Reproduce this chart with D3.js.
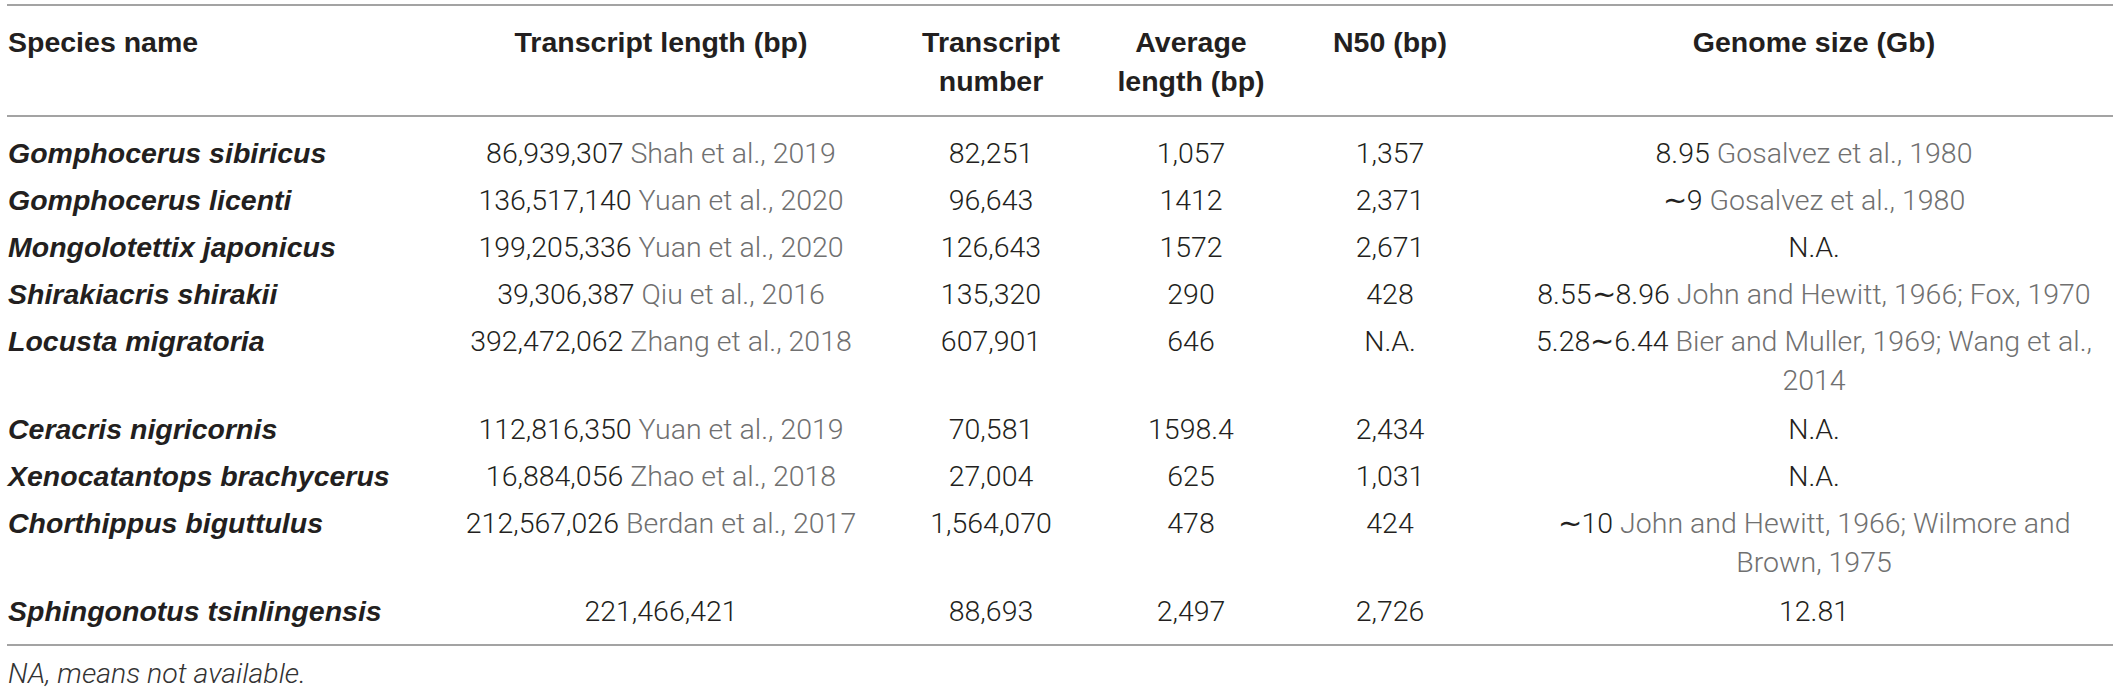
<!DOCTYPE html>
<html>
<head>
<meta charset="utf-8">
<script src="https://cdn.jsdelivr.net/npm/d3@7/dist/d3.min.js"></script>
<style>
  html, body { margin: 0; padding: 0; background: #fff; }
  svg { display: block; }
</style>
</head>
<body>
<svg id="chart" width="2119" height="691"></svg>
<script>
// ---------------- DATA ----------------
const headers = [
  ["Species name"],
  ["Transcript length (bp)"],
  ["Transcript", "number"],
  ["Average", "length (bp)"],
  ["N50 (bp)"],
  ["Genome size (Gb)"]
];
const species = [
  "Gomphocerus sibiricus",
  "Gomphocerus licenti",
  "Mongolotettix japonicus",
  "Shirakiacris shirakii",
  "Locusta migratoria",
  "Ceracris nigricornis",
  "Xenocatantops brachycerus",
  "Chorthippus biguttulus",
  "Sphingonotus tsinlingensis"
];
const transcriptLength = ["86,939,307", "136,517,140", "199,205,336", "39,306,387", "392,472,062",
  "112,816,350", "16,884,056", "212,567,026", "221,466,421"];
const lengthRef = ["Shah et al., 2019", "Yuan et al., 2020", "Yuan et al., 2020", "Qiu et al., 2016",
  "Zhang et al., 2018", "Yuan et al., 2019", "Zhao et al., 2018", "Berdan et al., 2017", ""];
const transcriptNumber = ["82,251", "96,643", "126,643", "135,320", "607,901", "70,581", "27,004", "1,564,070", "88,693"];
const avgLength = ["1,057", "1412", "1572", "290", "646", "1598.4", "625", "478", "2,497"];
const n50 = ["1,357", "2,371", "2,671", "428", "N.A.", "2,434", "1,031", "424", "2,726"];
const genomeSize = ["8.95", "\u223C9", "N.A.", "8.55\u223C8.96", "5.28\u223C6.44", "N.A.", "N.A.", "\u223C10", "12.81"];
// genome references, "|" marks the line break of the original cell
const genomeRef = ["Gosalvez et al., 1980", "Gosalvez et al., 1980", "", "John and Hewitt, 1966; Fox, 1970",
  "Bier and Muller, 1969; Wang et al.,|2014", "", "", "John and Hewitt, 1966; Wilmore and|Brown, 1975", ""];
const footnote = "NA, means not available.";

// ---------------- LAYOUT ----------------
const W = 2119, H = 691;
const FS = 28.5;
const left = 7, right = 2113;
const colX = d3.scaleOrdinal().domain(d3.range(6)).range([8, 661, 991, 1191, 1390, 1814]);
const colAnchor = ["start", "middle", "middle", "middle", "middle", "middle"];
const dark = "#231f20", grey = "#707070", rule = "#a3a3a3";
const boldFont = "'Liberation Sans', Arial, Helvetica, sans-serif";
const lightFont = "Roboto, 'Liberation Sans', Arial, sans-serif";
const lightWeight = 300;

const svg = d3.select("#chart");
svg.append("rect").attr("width", W).attr("height", H).attr("fill", "#fff");

const yTopRule = 5, yHeadRule = 116, firstRow = 153, rowStep = 47, lineStep = 39;
const base = c => c + FS * 0.36; // centre -> baseline

// rows' line counts and centres
const rowLines = genomeRef.map(r => r.split("|").length);
const rowY = [];
let acc = firstRow;
rowLines.forEach((n, i) => { rowY.push(acc); acc += rowStep + (n - 1) * (lineStep + 2); });
const yBottomRule = acc - rowStep + 34;
const yScale = d3.scaleOrdinal().domain(d3.range(species.length)).range(rowY);

// rules
[yTopRule, yHeadRule, yBottomRule].forEach(y => {
  svg.append("line").attr("x1", left).attr("x2", right).attr("y1", y).attr("y2", y)
    .attr("stroke", rule).attr("stroke-width", 2);
});

// headers
const headY = [42, 81];
headers.forEach((lines, ci) => {
  lines.forEach((t, li) => {
    svg.append("text").attr("x", colX(ci)).attr("y", base(headY[li]))
      .attr("text-anchor", colAnchor[ci])
      .attr("font-family", boldFont).attr("font-weight", 700).attr("font-size", FS)
      .attr("fill", dark).text(t);
  });
});

function bodyText(ci, y, fill) {
  return svg.append("text").attr("x", colX(ci)).attr("y", base(y))
    .attr("text-anchor", "middle").attr("font-family", lightFont).attr("font-weight", lightWeight)
    .attr("font-size", FS).attr("fill", fill);
}
// value + grey reference on one line
function valRef(ci, y, val, ref) {
  const t = bodyText(ci, y, dark);
  t.append("tspan").text(val);
  if (ref) t.append("tspan").attr("fill", grey).text(" " + ref);
}

species.forEach((sp, i) => {
  const y = yScale(i);
  svg.append("text").attr("x", colX(0)).attr("y", base(y))
    .attr("font-family", boldFont).attr("font-weight", 700).attr("font-style", "italic")
    .attr("font-size", FS).attr("fill", dark).text(sp);
  valRef(1, y, transcriptLength[i], lengthRef[i]);
  bodyText(2, y, dark).text(transcriptNumber[i]);
  bodyText(3, y, dark).text(avgLength[i]);
  bodyText(4, y, dark).text(n50[i]);
  const refLines = genomeRef[i].split("|");
  valRef(5, y, genomeSize[i], refLines[0]);
  refLines.slice(1).forEach((l, k) => {
    bodyText(5, y + (k + 1) * lineStep, grey).text(l);
  });
});

svg.append("text").attr("x", 8).attr("y", base(yBottomRule + 28))
  .attr("font-family", lightFont).attr("font-weight", lightWeight).attr("font-style", "italic")
  .attr("font-size", FS).attr("fill", "#333").text(footnote);
</script>
</body>
</html>
